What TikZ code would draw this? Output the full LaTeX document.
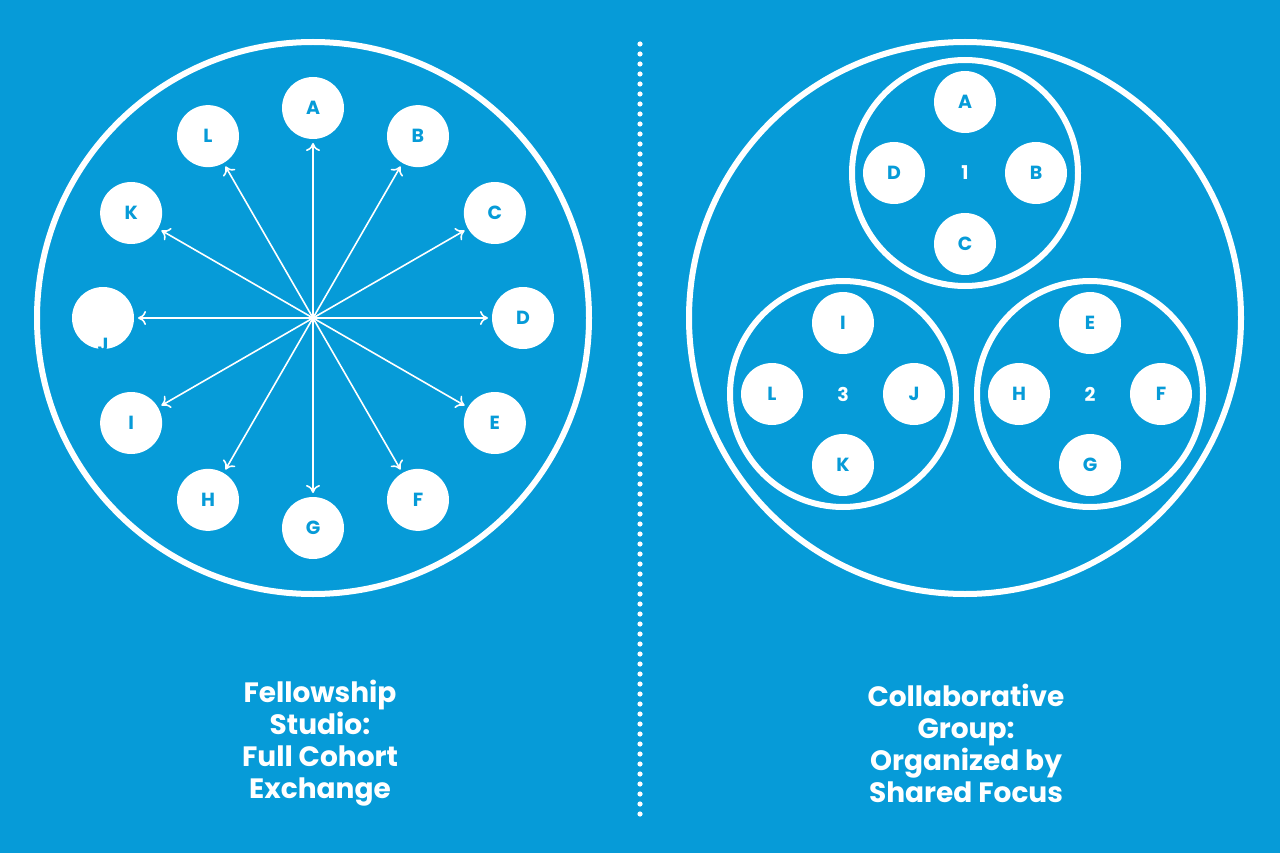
\documentclass[tikz,border=0pt]{standalone}
\usepackage{fontspec}
\setmainfont{Poppins}
\usetikzlibrary{arrows.meta,calc}
\definecolor{bg}{HTML}{069BD8}
\begin{document}
\begin{tikzpicture}[x=1pt,y=-1pt,
  ring/.style={draw=white,line width=6pt,circle,minimum size=#1,inner sep=0pt},
  dot/.style={fill=white,circle,minimum size=62pt,inner sep=0pt,text=bg,font=\bfseries\fontsize{19}{19}\selectfont},
  num/.style={text=white,font=\bfseries\fontsize{19}{19}\selectfont},
  spoke/.style={draw=white,line width=1.6pt,-{To[length=8pt,width=14pt]}},
  title/.style={text=white,align=center,font=\bfseries\fontsize{28}{32}\selectfont}]
\fill[bg] (0,0) rectangle (1280,853);
\useasboundingbox (0,0) rectangle (1280,853);
% dotted divider
\foreach \y in {44,54,...,814} \fill[white] (640,\y) circle (2.6pt);
% left
\node[ring=552pt] (big1) at (313,318) {};
\coordinate (c) at (313,318);
\foreach \n/\a in {A/90,B/60,C/30,D/0,E/-30,F/-60,G/-90,H/-120,I/-150,K/150,L/120}{
  \node[dot] (\n) at ($(c)+(\a:210 and -210)$) {\n};
}
\node[dot] (J) at (103,318) {};
\node[text=bg,font=\bfseries\fontsize{19}{19}\selectfont] (Jt) at (103,345) {J};
\foreach \a in {0,30,...,330} \draw[spoke] (c) -- ++(\a:175 and -175) coordinate (t\a);
% right
\node[ring=552pt] (big2) at (965,318) {};
\node[ring=226pt] (g1) at (965,173) {};
\node[ring=226pt] (g3) at (843,394) {};
\node[ring=226pt] (g2) at (1090,394) {};
\foreach \g/\t/\r/\b/\l/\k in {g1/A/B/C/D/1,g2/E/F/G/H/2,g3/I/J/K/L/3}{
  \node[num] (\g n) at (\g) {\k};
  \node[dot] (\g t) at ($(\g)+(0,-71)$) {\t};
  \node[dot] (\g r) at ($(\g)+(71,0)$) {\r};
  \node[dot] (\g b) at ($(\g)+(0,71)$) {\b};
  \node[dot] (\g l) at ($(\g)+(-71,0)$) {\l};
}
\node[title] (t1) at (320,743) {Fellowship\\Studio:\\Full Cohort\\Exchange};
\node[title] (t2) at (966,743) {Collaborative\\Group:\\Organized by\\Shared Focus};
\end{tikzpicture}
\end{document}
